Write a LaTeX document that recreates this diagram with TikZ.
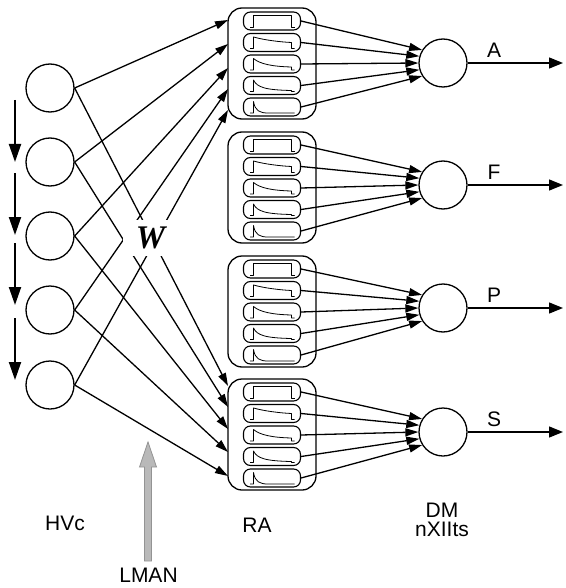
\documentclass[tikz,border=0pt]{standalone}
\usepackage{fontspec}
\setmainfont{Liberation Sans}
\newfontfamily\wfont{Liberation Serif}
\usetikzlibrary{arrows.meta}
\begin{document}
\begin{tikzpicture}[x=1pt,y=-1pt,
 neuron/.style={circle,draw,line width=1.3pt,minimum size=48pt,inner sep=0pt},
 rabox/.style={draw,rounded corners=14pt,line width=1.3pt,minimum width=88pt,minimum height=111pt,inner sep=0pt},
 cellbox/.style={draw,rounded corners=7pt,line width=1.1pt,minimum width=57pt,minimum height=18pt,inner sep=0pt},
 conn/.style={line width=1.3pt,-{Triangle[length=13pt,width=8pt]}},
 wave/.style={line width=0.8pt,line join=round},
 lab/.style={font=\fontsize{21}{19}\selectfont,inner sep=0pt},
 seqarrow/.style={line width=2pt,-{Triangle[length=18pt,width=12pt]}},
 outarrow/.style={line width=1.3pt,-{Triangle[length=14pt,width=11pt]}},
 lmanshape/.style={fill=gray!55,draw=gray!85,line width=0.8pt,line join=miter}]

\useasboundingbox (0,0) rectangle (565,588);
\fill[white] (0,0) rectangle (565,588);

% HVc neurons
\foreach \i/\y in {1/88,2/162,3/236,4/310,5/385}
  \node[neuron] (h\i) at (50,\y) {};

% RA groups
\foreach \g/\t in {1/8,2/132,3/256,4/379} {
  \node[rabox] (ra\g) at (272,{\t+55.5}) {};
  \foreach \k in {1,...,5}
    \node[cellbox] (r\g\k) at (272,{\t+13+21.5*(\k-1)}) {};
}

% waveforms
\foreach \g in {1,...,4} {
  \draw[wave,shift={(r\g1.center)}] (-22,6) -- (-18.5,6) -- (-18.5,-5.5) -- (19.5,-5.5) -- (19.5,6) -- (22.5,6);
  \draw[wave,shift={(r\g2.center)}] (-22,6) -- (-18.5,6) -- (-18.5,-5.5) .. controls (-8,-2.5) and (8,-0.5) .. (19.5,0) -- (19.5,6) -- (22.5,6);
  \draw[wave,shift={(r\g3.center)}] (-22,6) -- (-18.5,6) -- (-18.5,-5.5) .. controls (-12,0) and (0,2.5) .. (19.5,3) -- (19.5,6) -- (22.5,6);
  \draw[wave,shift={(r\g4.center)}] (-22,6) -- (-18.5,6) -- (-18.5,-5.5) .. controls (-15,2) and (-6,4.5) .. (19.5,5) -- (19.5,6) -- (22.5,6);
  \draw[wave,shift={(r\g5.center)}] (-22,6) -- (-18.5,6) -- (-18.5,-5.5) .. controls (-17,4) and (-12,6) .. (-4,6) -- (22.5,6);
}

% DM / nXIIts neurons and outputs
\foreach \i/\y/\l in {1/63/A,2/185/F,3/308/P,4/432/S} {
  \node[neuron] (d\i) at (443,\y) {};
  \coordinate (o\i) at (563,\y);
  \draw[outarrow] (d\i.east) -- (o\i);
  \node[lab] (lab\i) at (494,{\y-12.5}) {\l};
}

% RA -> DM
\foreach \g in {1,...,4}
  \foreach \k/\a in {1/148,2/164,3/180,4/196,5/212}
    \draw[conn] (r\g\k.east) -- (d\g.\a);

% HVc -> RA
\foreach \k/\y in {1/20,2/44,3/68,4/89,5/110}
  \coordinate (u\k) at (228,\y);
\foreach \k/\y in {1/386,2/407,3/429,4/452,5/476}
  \coordinate (v\k) at (228,\y);
\foreach \k in {1,...,5} {
  \draw[conn] (h\k.east) -- (u\k);
  \draw[conn] (h\k.east) -- (v\k);
}

% W label (masks the crossing lines)
\node[fill=white,minimum width=47pt,minimum height=36pt,inner sep=0pt,
      font={\wfont\bfseries\itshape\fontsize{33}{33}\selectfont}] (w) at (146.5,238) {\hspace*{8pt}W};

% sequence arrows
\foreach \i/\a/\b in {1/100/162,2/173/235,3/243/305,4/318/380} {
  \coordinate (sa\i) at (15,\a);
  \coordinate (sb\i) at (15,\b);
  \draw[seqarrow] (sa\i) -- (sb\i);
}

% labels
\node[lab] (hvc) at (65,523) {HVc};
\node[lab] (ralab) at (257,525) {RA};
\node[lab,align=center,anchor=north] (dm) at (442,503) {DM\\nXIIts};
\node[lab] (lman) at (148.5,575) {LMAN};

% LMAN arrow
\path[lmanshape] (144.5,561) -- (144.5,467) -- (139.5,467) -- (148,442)
  -- (156.5,467) -- (151.5,467) -- (151.5,561) -- cycle;
\end{tikzpicture}
\end{document}
